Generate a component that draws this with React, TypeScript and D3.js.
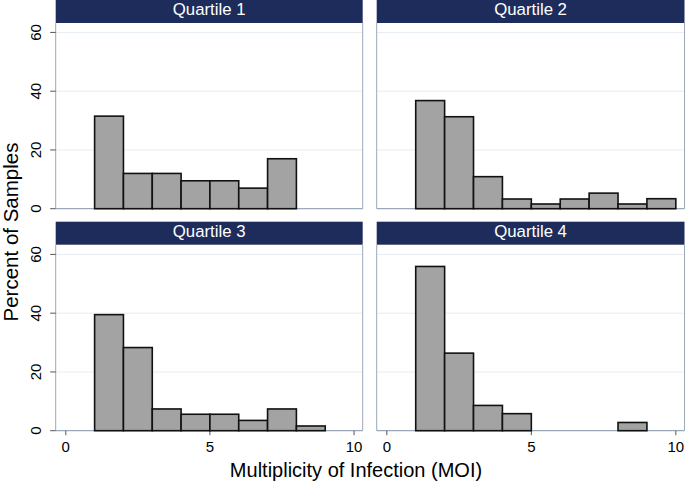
import React from "react";
import * as d3 from "d3";

const binStarts = [1, 2, 3, 4, 5, 6, 7, 8, 9];
const quartileLabels = ["Quartile 1", "Quartile 2", "Quartile 3", "Quartile 4"];
const q1 = [31.5, 12, 12, 9.5, 9.5, 7, 17, 0, 0];
const q2 = [36.8, 31.3, 10.9, 3.3, 1.6, 3.3, 5.3, 1.6, 3.4];
const q3 = [39.5, 28.3, 7.4, 5.6, 5.6, 3.5, 7.4, 1.6, 0];
const q4 = [55.9, 26.4, 8.6, 5.8, 0, 0, 0, 2.8, 0];
const seriesList = [q1, q2, q3, q4];
const yTicks = [0, 20, 40, 60];
const xTicks = [0, 5, 10];
const yTitle = "Percent of Samples";
const xTitle = "Multiplicity of Infection (MOI)";

const W = 685;
const H = 484;
const FONT = "'Liberation Sans', Arial, Helvetica, sans-serif";
const NAVY = "#1d2c5b";
const AXIS = "#9aa8b8";
const GRID = "#e6ecf2";
const BAR = "#a3a3a3";

const colsX = [
  { left: 55.7, right: 362.7 },
  { left: 376.7, right: 684.5 },
];
const rowsY = [
  { headerTop: 0, plotTop: 23, base: 208.7 },
  { headerTop: 221.7, plotTop: 244.7, base: 430.7 },
];

function Panel({ idx }: { idx: number }) {
  const col = colsX[idx % 2];
  const row = rowsY[Math.floor(idx / 2)];
  const data = seriesList[idx];
  const x = d3.scaleLinear().domain([-0.35, 10.3]).range([col.left, col.right]);
  const y = d3
    .scaleLinear()
    .domain([0, 63.2])
    .range([row.base, row.base - 63.2 * 2.938]);
  const isLeft = idx % 2 === 0;
  const isBottom = idx >= 2;
  return (
    <g>
      <rect
        x={col.left}
        y={row.headerTop}
        width={col.right - col.left}
        height={row.plotTop - row.headerTop}
        fill={NAVY}
      />
      <text
        x={(col.left + col.right) / 2}
        y={row.headerTop + 15.2}
        textAnchor="middle"
        fill="#ffffff"
        fontSize={16.8}
        fontFamily={FONT}
      >
        {quartileLabels[idx]}
      </text>
      {yTicks.slice(1).map((t) => (
        <line
          key={"g" + t}
          x1={col.left}
          x2={col.right}
          y1={y(t)}
          y2={y(t)}
          stroke={GRID}
          strokeWidth={1}
        />
      ))}
      <line x1={col.left} x2={col.left} y1={row.plotTop} y2={row.base} stroke={AXIS} strokeWidth={1} />
      <line x1={col.right} x2={col.right} y1={row.plotTop} y2={row.base} stroke={AXIS} strokeWidth={1} />
      <line x1={col.left} x2={col.right} y1={row.base} y2={row.base} stroke={AXIS} strokeWidth={1.2} />
      {isLeft &&
        yTicks.map((t) => (
          <g key={"yt" + t}>
            <line x1={col.left - 5.5} x2={col.left} y1={y(t)} y2={y(t)} stroke="#555" strokeWidth={1} />
            <text
              transform={`translate(${col.left - 14.5},${y(t)}) rotate(-90)`}
              textAnchor="middle"
              fontSize={15}
              fontFamily={FONT}
              fill="#000"
            >
              {t}
            </text>
          </g>
        ))}
      {isBottom &&
        xTicks.map((t) => (
          <g key={"xt" + t}>
            <line x1={x(t)} x2={x(t)} y1={row.base} y2={row.base + 4.5} stroke="#555" strokeWidth={1} />
            <text x={x(t)} y={row.base + 21} textAnchor="middle" fontSize={15} fontFamily={FONT} fill="#000">
              {t}
            </text>
          </g>
        ))}
      {data.map((v, i) =>
        v > 0 ? (
          <rect
            key={"b" + i}
            x={x(binStarts[i])}
            y={y(v)}
            width={x(binStarts[i] + 1) - x(binStarts[i])}
            height={y(0) - y(v)}
            fill={BAR}
            stroke="#111"
            strokeWidth={1.6}
          />
        ) : null
      )}
    </g>
  );
}

export default function App() {
  return (
    <svg
      width={W}
      height={H}
      viewBox={`0 0 ${W} ${H}`}
      style={{ position: "absolute", left: 0, top: 0, background: "#fff" }}
    >
      <rect x={0} y={0} width={W} height={H} fill="#fff" />
      {[0, 1, 2, 3].map((i) => (
        <Panel key={i} idx={i} />
      ))}
      <text
        transform={`translate(17.5,232) rotate(-90)`}
        textAnchor="middle"
        fontSize={20.5}
        fontFamily={FONT}
        fill="#000"
      >
        {yTitle}
      </text>
      <text x={356} y={477.3} textAnchor="middle" fontSize={20} fontFamily={FONT} fill="#000">
        {xTitle}
      </text>
    </svg>
  );
}
